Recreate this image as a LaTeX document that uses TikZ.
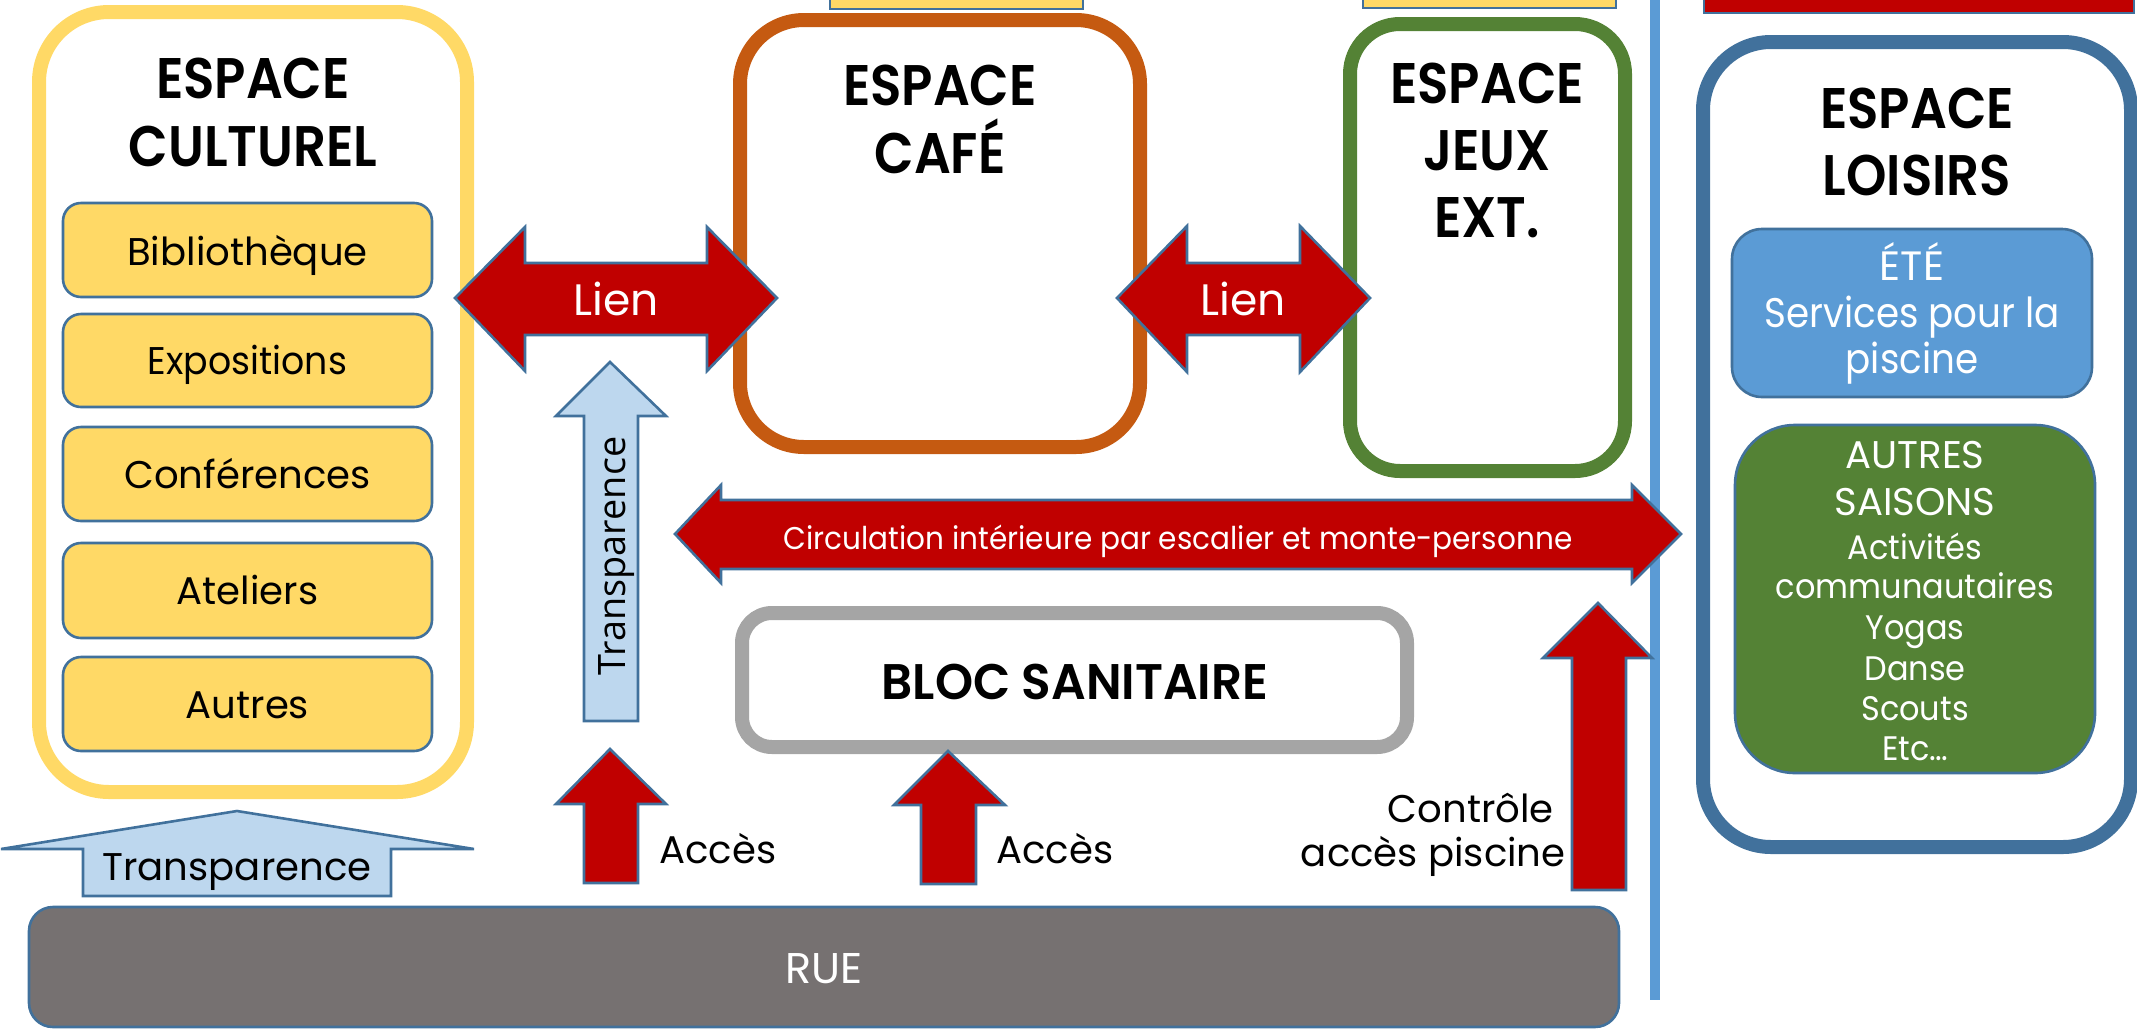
\documentclass[tikz,border=0pt]{standalone}
\usepackage{fontspec}
\setmainfont{Poppins}
\newfontfamily\vertfont{Open Sans}
\newfontfamily\narrowA[FakeStretch=0.9]{Poppins}
\newfontfamily\narrowB[FakeStretch=0.94]{Poppins}
\IfFontExistsTF{Poppins SemiBold}
 {\newfontfamily\ttlfam[FakeStretch=0.9]{Poppins SemiBold}\newcommand\ttlfont{\ttlfam}%
  \newfontfamily\blocfam[FakeStretch=0.97]{Poppins SemiBold}\newcommand\blocfont{\blocfam}}
 {\newfontfamily\ttlfam[FakeStretch=0.88]{Poppins}\newcommand\ttlfont{\ttlfam\bfseries}%
  \newfontfamily\blocfam[FakeStretch=0.95]{Poppins}\newcommand\blocfont{\blocfam\bfseries}}
\definecolor{gold}{HTML}{FFD966}
\definecolor{bordblue}{HTML}{41719C}
\definecolor{darkred}{HTML}{C00000}
\definecolor{orangec}{HTML}{C55A11}
\definecolor{greenc}{HTML}{548235}
\definecolor{midblue}{HTML}{5B9BD5}
\definecolor{lightblue}{HTML}{BDD7EE}
\definecolor{grayc}{HTML}{A5A5A5}
\definecolor{ruegray}{HTML}{767171}
\tikzset{
  bigbox/.style={line width=7pt, fill=white},
  subbox/.style={draw=bordblue, line width=1.3pt, fill=gold, rounded corners=9pt},
  redarrow/.style={draw=bordblue, line width=1.3pt, fill=darkred, line join=miter},
  bluearrow/.style={draw=bordblue, line width=1.3pt, fill=lightblue, line join=miter},
  ttl/.style={font=\ttlfont\fontsize{28.6}{30}\selectfont, anchor=base, inner sep=0pt},
  subtxt/.style={font=\fontsize{19.3}{21}\selectfont, anchor=base, inner sep=0pt},
  liensty/.style={font=\fontsize{22}{24}\selectfont, text=white, anchor=base, inner sep=0pt},
  whitetxt/.style={text=white, anchor=base, inner sep=0pt},
  lbl/.style={font=\fontsize{19.3}{21}\selectfont, inner sep=0pt}
}
\begin{document}
\begin{tikzpicture}[x=0.5pt,y=-0.5pt]
\useasboundingbox (0,0) rectangle (2137,1029);

% partial boxes at the top
\path[draw=bordblue, line width=1.3pt, fill=gold] (830,-10) rectangle (1083,9);
\path[draw=bordblue, line width=1.3pt, fill=gold] (1363,-10) rectangle (1616,8);
\path[draw=bordblue, line width=1.3pt, fill=darkred] (1704,-10) rectangle (2134,13);

% ESPACE CULTUREL
\path[bigbox, draw=gold, rounded corners=35pt] (39,12) rectangle (467,792);
\node[ttl] (c1) at (253,98) {ESPACE};
\node[ttl] (c2) at (253,166) {CULTUREL};
\path[subbox] (63,203) rectangle (432,297);
\path[subbox] (63,314) rectangle (432,407);
\path[subbox] (63,427) rectangle (432,521);
\path[subbox] (63,543) rectangle (432,638);
\path[subbox] (63,657) rectangle (432,751);
\node[subtxt] (bib) at (247.5,265) {Bibliothèque};
\node[subtxt, font=\narrowB\fontsize{19.3}{21}\selectfont] (exp) at (247.5,374) {Expositions};
\node[subtxt] (conf) at (247.5,488) {Conférences};
\node[subtxt] (atel) at (247.5,604) {Ateliers};
\node[subtxt] (autr) at (247.5,718) {Autres};

% ESPACE CAFE
\path[bigbox, draw=orangec, rounded corners=32pt] (740,20) rectangle (1140,447);
\node[ttl] (f1) at (940,105) {ESPACE};
\node[ttl] (f2) at (940,173) {CAFÉ};

% ESPACE JEUX EXT.
\path[bigbox, draw=greenc, rounded corners=25pt] (1350,24) rectangle (1625,471);
\node[ttl] (j1) at (1487,103) {ESPACE};
\node[ttl] (j2) at (1487,170) {JEUX};
\node[ttl] (j3) at (1487,237) {EXT.};

% ESPACE LOISIRS
\path[bigbox, draw=bordblue, rounded corners=34pt] (1703,42) rectangle (2131,847);
\node[ttl] (l1) at (1917,128) {ESPACE};
\node[ttl] (l2) at (1917,195) {LOISIRS};
\path[draw=bordblue, line width=1.3pt, fill=midblue, rounded corners=15pt] (1732,229) rectangle (2092,397);
\node[whitetxt, font=\fontsize{20.5}{22}\selectfont] (ete) at (1912,280) {ÉTÉ};
\node[whitetxt, font=\narrowA\fontsize{20.7}{22}\selectfont] (serv) at (1912,327) {Services pour la};
\node[whitetxt, font=\narrowA\fontsize{20.7}{22}\selectfont] (pisc) at (1912,373) {piscine};
\path[draw=bordblue, line width=1.3pt, fill=greenc, rounded corners=30pt] (1735,425) rectangle (2095,773);
\node[whitetxt, font=\fontsize{19.3}{21}\selectfont] (as1) at (1915,468) {AUTRES};
\node[whitetxt, font=\fontsize{19.3}{21}\selectfont] (as2) at (1915,515) {SAISONS};
\node[whitetxt, font=\narrowB\fontsize{17}{19}\selectfont] (as3) at (1915,559) {Activités};
\node[whitetxt, font=\narrowB\fontsize{17}{19}\selectfont] (as4) at (1915,598) {communautaires};
\node[whitetxt, font=\narrowB\fontsize{17}{19}\selectfont] (as5) at (1915,639) {Yogas};
\node[whitetxt, font=\narrowB\fontsize{17}{19}\selectfont] (as6) at (1915,680) {Danse};
\node[whitetxt, font=\narrowB\fontsize{17}{19}\selectfont] (as7) at (1915,720) {Scouts};
\node[whitetxt, font=\narrowB\fontsize{17}{19}\selectfont] (as8) at (1915,760) {Etc…};

% BLOC SANITAIRE
\path[bigbox, draw=grayc, rounded corners=15pt] (742,613) rectangle (1407,747);
\node[anchor=base, inner sep=0pt, font=\blocfont\fontsize{25}{27}\selectfont] (bloc) at (1075,699) {BLOC SANITAIRE};

% RUE
\path[draw=bordblue, line width=1.3pt, fill=ruegray, rounded corners=12pt] (29,907) rectangle (1619,1027);
\node[whitetxt, font=\fontsize{21.5}{23}\selectfont] (rue) at (824,983) {RUE};

% vertical separator line
\draw[line width=5pt, midblue] (1655,-5) -- (1655,1000);

% Lien arrows
\path[redarrow] (455,298) -- (525,227) -- (525,263) -- (707,263) -- (707,227) -- (777,298)
  -- (707,371) -- (707,335) -- (525,335) -- (525,371) -- cycle;
\node[liensty] (lien1) at (616,315) {Lien};
\path[redarrow] (1117,298) -- (1187,226) -- (1187,263) -- (1300,263) -- (1300,226) -- (1370,298)
  -- (1300,372) -- (1300,335) -- (1187,335) -- (1187,372) -- cycle;
\node[liensty] (lien2) at (1243,315) {Lien};

% Circulation arrow
\path[redarrow] (675,534) -- (721,485) -- (721,500) -- (1632,500) -- (1632,485) -- (1681,534)
  -- (1632,583) -- (1632,569) -- (721,569) -- (721,583) -- cycle;
\node[whitetxt, font=\narrowB\fontsize{15.7}{17}\selectfont] (circ) at (1178,549) {Circulation intérieure par escalier et monte-personne};

% Transparence arrows
\path[bluearrow] (610,362) -- (666,416) -- (638,416) -- (638,721) -- (584,721) -- (584,416) -- (556,416) -- cycle;
\node[anchor=base, inner sep=0pt, rotate=90, font=\vertfont\fontsize{18.9}{20}\selectfont] (transv) at (625,556) {Transparence};
\path[bluearrow] (237,811) -- (474,849) -- (391,849) -- (391,896) -- (83,896) -- (83,849) -- (1,849) -- cycle;
\node[subtxt] (transh) at (237,880) {Transparence};

% Acces arrows
\path[redarrow] (610,749) -- (666,804) -- (638,804) -- (638,883) -- (584,883) -- (584,804) -- (556,804) -- cycle;
\node[lbl, anchor=base west] (acc1) at (659,863) {Accès};
\path[redarrow] (948,751) -- (1005,805) -- (976,805) -- (976,884) -- (921,884) -- (921,805) -- (894,805) -- cycle;
\node[lbl, anchor=base west] (acc2) at (996,863) {Accès};
\path[redarrow] (1598,603) -- (1652,658) -- (1626,658) -- (1626,890) -- (1572,890) -- (1572,658) -- (1543,658) -- cycle;
\node[lbl, anchor=base east] (ctrl1) at (1554,822) {Contrôle};
\node[lbl, anchor=base east] (ctrl2) at (1566,866) {accès piscine};
\end{tikzpicture}
\end{document}
